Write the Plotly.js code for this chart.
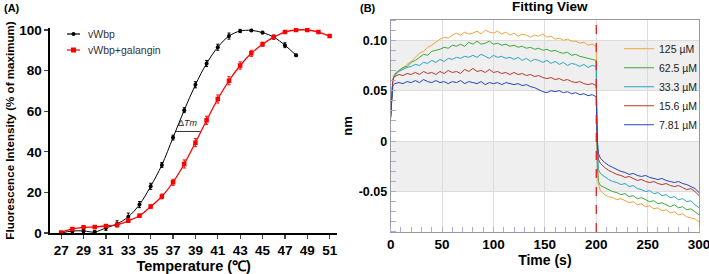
<!DOCTYPE html>
<html><head><meta charset="utf-8">
<script src="https://cdn.plot.ly/plotly-3.0.1.min.js"></script>
<style>html,body{margin:0;padding:0;background:#fff}#chart{width:709px;height:274px}</style>
</head><body><div id="chart"></div>
<script>
// ---------- Panel A data ----------
var tempBlack = [27,28,29,30,31,32,33,34,35,36,37,38,39,40,41,42,43,44,45,46,47,48];
var vWbp      = [0,1,1,0.5,2.5,4.5,8,14,23,33.5,47,60.5,73,83.5,91.5,97,99.5,99.8,98.7,96.5,92.5,87.5];
var vWbpErr   = [0.5,0.8,0.8,0.8,1.2,1.5,1.8,1.5,1.5,1.2,1.2,1.2,1.5,1.5,1.5,1.5,0.8,0.5,0.6,1,1.2,0.6];
var tempRed   = [27,28,29,30,31,32,33,34,35,36,37,38,39,40,41,42,43,44,45,46,47,48,49,50,51];
var vWbpGal   = [0.3,2,2.8,3,3.5,4,6,8.5,13,18,25,34,44.5,55.5,66,75,82.5,88.5,93,96.5,99,100,100,99,97];
var vWbpGalErr= [0.5,0.6,0.6,0.6,0.6,0.8,0.8,0.8,0.8,1.2,1.5,2,2,2,2,2,1.8,1.5,1,0.8,0.6,0.5,0.5,0.5,0.6];
var tempTicks = [27,29,31,33,35,37,39,41,43,45,47,49,51];
var seriesNamesA = ['vWbp','vWbp+galangin'];

// ---------- Panel B data ----------
var time = [0,1,2,3,4,8,12,16,20,24,28,32,36,40,44,48,52,56,60,64,68,72,76,80,84,88,92,96,100,104,108,112,116,120,124,128,132,136,140,144,148,152,156,160,164,168,172,176,180,184,188,192,196,200,
 200.5,201,202,204,208,212,216,220,224,228,232,236,240,244,248,252,256,260,264,268,272,276,280,284,288,292,296,300];
var c125 = [0.022,0.045,0.058,0.064,
 0.067,0.070,0.072,0.076,0.079,0.083,0.087,0.089,0.093,0.095,
 0.098,0.101,0.103,0.102,0.105,0.107,0.105,0.108,0.106,0.107,
 0.109,0.106,0.110,0.108,0.107,0.109,0.106,0.108,0.105,0.107,
 0.104,0.106,0.105,0.103,0.105,0.104,0.106,0.103,0.104,0.101,
 0.102,0.100,0.101,0.099,0.099,0.097,0.098,0.095,0.096,0.094,
 0.015,-0.020,-0.042,-0.049,-0.053,-0.055,-0.056,-0.058,
 -0.057,-0.059,-0.061,-0.060,-0.063,
 -0.062,-0.065,-0.064,-0.067,-0.066,
 -0.069,-0.068,-0.071,-0.070,-0.073,
 -0.072,-0.075,-0.076,-0.077,-0.080];
var c62 = [0.024,0.048,0.060,0.064,
 0.066,0.070,0.073,0.074,0.078,0.080,0.083,0.086,0.085,0.089,
 0.090,0.091,0.093,0.092,0.095,0.094,0.096,0.094,0.098,0.096,
 0.099,0.096,0.097,0.099,0.096,0.097,0.095,0.096,0.094,0.095,
 0.093,0.094,0.092,0.093,0.091,0.092,0.090,0.091,0.089,0.090,
 0.088,0.087,0.088,0.085,0.086,0.084,0.083,0.082,0.081,0.080,
 0.012,-0.025,-0.040,-0.044,-0.046,-0.048,-0.050,-0.051,
 -0.053,-0.052,-0.055,-0.054,-0.057,
 -0.056,-0.058,-0.060,-0.059,-0.062,
 -0.061,-0.063,-0.065,-0.063,-0.066,
 -0.065,-0.068,-0.067,-0.070,-0.073];
var c33 = [0.023,0.047,0.059,0.063,
 0.065,0.069,0.071,0.073,0.074,0.076,0.075,0.078,0.077,0.080,
 0.078,0.081,0.079,0.082,0.081,0.083,0.082,0.084,0.083,0.085,
 0.083,0.086,0.084,0.082,0.085,0.083,0.084,0.082,0.083,0.081,
 0.083,0.080,0.082,0.079,0.081,0.080,0.078,0.080,0.077,0.079,
 0.076,0.078,0.075,0.077,0.076,0.074,0.076,0.073,0.075,0.074,
 0.018,-0.010,-0.028,-0.032,-0.035,-0.038,-0.040,-0.041,
 -0.043,-0.042,-0.045,-0.044,-0.047,
 -0.048,-0.050,-0.049,-0.052,-0.051,
 -0.054,-0.053,-0.056,-0.055,-0.058,
 -0.057,-0.060,-0.059,-0.063,-0.066];
var c15 = [0.025,0.050,0.060,0.063,
 0.064,0.066,0.065,0.067,0.066,0.068,0.066,0.069,0.067,0.068,
 0.066,0.069,0.067,0.070,0.068,0.069,0.067,0.071,0.069,0.072,
 0.069,0.070,0.068,0.071,0.068,0.069,0.067,0.068,0.066,0.068,
 0.066,0.067,0.065,0.066,0.064,0.065,0.063,0.062,0.063,0.061,
 0.062,0.060,0.061,0.059,0.058,0.059,0.057,0.056,0.057,0.055,
 0.020,-0.005,-0.018,-0.022,-0.026,-0.029,-0.031,-0.033,
 -0.034,-0.036,-0.035,-0.037,-0.039,
 -0.038,-0.040,-0.041,-0.040,-0.042,
 -0.043,-0.042,-0.044,-0.045,-0.044,
 -0.046,-0.048,-0.047,-0.050,-0.054];
var c7 = [0.024,0.046,0.054,0.056,
 0.057,0.058,0.057,0.059,0.058,0.060,0.058,0.061,0.059,0.058,
 0.060,0.058,0.059,0.057,0.059,0.058,0.060,0.057,0.059,0.058,
 0.057,0.059,0.056,0.058,0.057,0.058,0.056,0.058,0.057,0.056,
 0.057,0.055,0.056,0.054,0.053,0.051,0.049,0.048,0.050,0.049,
 0.050,0.048,0.049,0.047,0.048,0.046,0.047,0.045,0.046,0.044,
 0.022,0.002,-0.012,-0.017,-0.021,-0.024,-0.026,-0.028,
 -0.030,-0.031,-0.033,-0.032,-0.034,
 -0.035,-0.034,-0.036,-0.037,-0.038,
 -0.037,-0.039,-0.040,-0.041,-0.040,
 -0.042,-0.043,-0.045,-0.047,-0.051];
var concLabels = ['125 µM','62.5 µM','33.3 µM','15.6 µM','7.81 µM'];
var timeTicks = [0,50,100,150,200,250,300];
var nmTicks = [-0.05,0,0.05,0.10];
var nmTickText = ['-0.05','0','0.05','0.10'];

var curveColors = ['#f2a23a','#3aa83a','#2aa3c6','#b5382a','#2346b8'];
var series = [c125,c62,c33,c15,c7];

var F = 'Liberation Sans, Arial, sans-serif';
var traces = [
  {x: tempBlack, y: vWbp, type:'scatter', mode:'lines+markers', name:seriesNamesA[0], showlegend:false,
   line:{color:'#000', width:1, shape:'spline'}, marker:{color:'#000', size:4, symbol:'circle'},
   error_y:{type:'data', array:vWbpErr, color:'#000', thickness:1, width:1.5},
   xaxis:'x', yaxis:'y'},
  {x: tempRed, y: vWbpGal, type:'scatter', mode:'lines+markers', name:seriesNamesA[1], showlegend:false,
   line:{color:'#ff0000', width:1.3, shape:'spline'}, marker:{color:'#ff0000', size:4.5, symbol:'square'},
   error_y:{type:'data', array:vWbpGalErr, color:'#ff0000', thickness:1, width:1.5},
   xaxis:'x', yaxis:'y'}
];
for (var i=0;i<series.length;i++){
  traces.push({x: time, y: series[i], type:'scatter', mode:'lines', name: concLabels[i],
    line:{color: curveColors[i], width:1}, xaxis:'x2', yaxis:'y2', legend:'legend2'});
}

// manual legend for panel A (short symbols as in the original)
var legA = [{color:'#000', sym:'circle', y:34, name:seriesNamesA[0]}, {color:'#ff0000', sym:'square', y:50, name:seriesNamesA[1]}];
var shapes = [
  {type:'rect', xref:'x2 domain', yref:'y2', x0:0, x1:1, y0:0.05, y1:0.10, fillcolor:'#efefef', line:{width:0}, layer:'below'},
  {type:'rect', xref:'x2 domain', yref:'y2', x0:0, x1:1, y0:-0.05, y1:0, fillcolor:'#efefef', line:{width:0}, layer:'below'},
  {type:'line', xref:'x2', yref:'y2 domain', x0:200, x1:200, y0:0, y1:1, line:{color:'#e02020', width:1.3, dash:'dash'}},
  {type:'line', xref:'x', yref:'y', x0:37.2, x1:39.45, y0:50, y1:50, line:{color:'#000', width:0.8}}
];
var annotations = [
  {text:'(A)', xref:'paper', yref:'paper', x:0.003, y:1, xanchor:'left', yanchor:'top', showarrow:false, font:{size:11, family:F, weight:'bold'}},
  {text:'(B)', xref:'paper', yref:'paper', x:0.505, y:1, xanchor:'left', yanchor:'top', showarrow:false, font:{size:11, family:F, weight:'bold'}},
  {text:'Fitting View', xref:'paper', yref:'paper', x:0.776, y:1.01, xanchor:'center', yanchor:'top', showarrow:false, font:{size:13.5, family:F, weight:'bold'}},
  {text:'Δ<i>Tm</i>', xref:'x', yref:'y', x:38.3, y:50.5, xanchor:'center', yanchor:'bottom', showarrow:false, font:{size:9, family:F, color:'#222'}}
];
legA.forEach(function(L){
  var yp = 1 - L.y/274;
  shapes.push({type:'line', xref:'paper', yref:'paper', x0:67/709, x1:80/709, y0:yp, y1:yp, line:{color:L.color, width:1.2}});
  if (L.sym==='circle') shapes.push({type:'circle', xref:'paper', yref:'paper', x0:71.5/709, x1:75.5/709, y0:yp-2/274, y1:yp+2/274, fillcolor:L.color, line:{width:0}});
  else shapes.push({type:'rect', xref:'paper', yref:'paper', x0:71/709, x1:76/709, y0:yp-2.5/274, y1:yp+2.5/274, fillcolor:L.color, line:{width:0}});
  annotations.push({text:L.name, xref:'paper', yref:'paper', x:86/709, y:yp, xanchor:'left', yanchor:'middle', showarrow:false, font:{size:10.5, family:F, color:'#333'}});
});

var layout = {
  width:709, height:274, margin:{l:0,r:0,t:0,b:0},
  paper_bgcolor:'#fff', plot_bgcolor:'rgba(0,0,0,0)',
  font:{family:F, color:'#000'},
  showlegend:true,
  xaxis:{domain:[0.0705,0.476], range:[26,51.7], tickvals:tempTicks, ticks:'outside', ticklen:4, tickwidth:1.3,
    showline:true, linecolor:'#000', linewidth:1.5, showgrid:false, zeroline:false,
    tickfont:{size:13.5, family:F, weight:'bold'},
    title:{text:'Temperature (℃)', font:{size:14.5, family:F, weight:'bold'}, standoff:3}},
  yaxis:{domain:[0.1496,0.898], range:[0,101], tickvals:[0,20,40,60,80,100], ticks:'outside', ticklen:4, tickwidth:1.3,
    showline:true, linecolor:'#000', linewidth:1.5, showgrid:false, zeroline:false,
    tickfont:{size:13.5, family:F, weight:'bold'},
    title:{text:'Fluorescence Intensity (% of maximum)', font:{size:11.6, family:F, weight:'bold'}, standoff:2}},
  xaxis2:{domain:[0.551,0.986], range:[0,300], tickvals:timeTicks, ticks:'', showline:true, mirror:true,
    linecolor:'#999', linewidth:1, showgrid:true, gridcolor:'#dcdcdc', zeroline:false, ticklabeloverflow:'allow',
    minor:{dtick:10, ticks:'inside', ticklen:5, tickcolor:'#a8a8e8', tickwidth:1, showgrid:false},
    tickfont:{size:13.5, family:F, weight:'bold'},
    title:{text:'Time (s)', font:{size:14, family:F, weight:'bold'}, standoff:1}, anchor:'y2'},
  yaxis2:{domain:[0.1533,0.927], range:[-0.09,0.12], tickvals:nmTicks, ticktext:nmTickText, ticks:'', showline:true, mirror:true,
    linecolor:'#999', linewidth:1, showgrid:true, gridcolor:'#dcdcdc', zeroline:false,
    minor:{dtick:0.01, ticks:'inside', ticklen:5, tickcolor:'#a8a8e8', tickwidth:1, showgrid:false},
    tickfont:{size:12.5, family:F, weight:'bold'},
    title:{text:'nm', font:{size:13, family:F, weight:'bold'}, standoff:3}, anchor:'x2'},
  legend2:{x:0.873, y:0.875, xanchor:'left', yanchor:'top', bgcolor:'rgba(0,0,0,0)', font:{size:10.5, family:F, color:'#222'},
    tracegroupgap:0, itemwidth:30},
  shapes: shapes,
  annotations: annotations
};
Plotly.newPlot('chart', traces, layout, {displayModeBar:false, staticPlot:true});
</script></body></html>
